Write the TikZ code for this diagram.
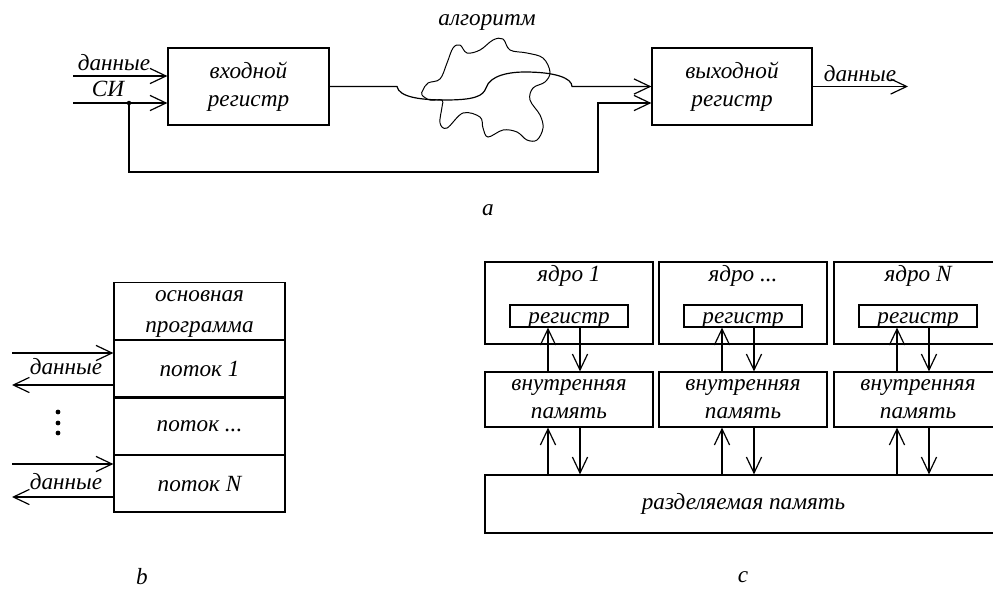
\documentclass[tikz,border=0pt]{standalone}
\usepackage{fontspec}
\setmainfont{Liberation Serif}
\usetikzlibrary{arrows.meta,positioning}
\tikzset{
  arr/.style={-{Straight Barb[length=4mm,width=3.8mm]}},
  blk/.style={draw, inner sep=0pt, align=center},
  rowbox/.style={blk, minimum width=4.275cm, minimum height=1.41cm},
  corebox/.style={blk, minimum width=4.2cm},
}
\begin{document}
\begin{tikzpicture}[x=0.025cm, y=-0.025cm, line width=0.85pt,
    every node/.style={font=\itshape\fontsize{16.5}{20}\selectfont}]
  \clip (0,0) rectangle (993,588);

  % (a) the two registers
  \node[blk, minimum width=4.025cm, minimum height=1.925cm] (in) at (248.5,86.5) {входной\\регистр};
  \node[blk, minimum width=4cm, minimum height=1.925cm] (out) at (732,86.5) {выходной\\регистр};

  % the inputs
  \coordinate (din) at (73,76);
  \coordinate (dsi) at (73,103);
  \node (ldin) at (114,63) {данные};
  \node (lsi) at (108,89) {СИ};
  \draw[arr] (din) -- (din -| in.west);
  \draw[arr] (dsi) -- (dsi -| in.west);

  % the clock goes round to the output register
  \coordinate (fb) at (129,103);
  \fill (fb) circle (1.6pt);
  \draw[arr] (fb) |- (598,172) |- (out.west |- fb);

  % the algorithm in between
  \coordinate (a1) at (397,86.5);
  \coordinate (a2) at (572,86.5);
  \draw[arr] (in.east) -- (a1) .. controls (399,97) and (420,100) .. (445,100)
    .. controls (475,100) and (483,96) .. (486,88)
    .. controls (490,75) and (510,72) .. (525,72)
    .. controls (555,72) and (572,78) .. (a2) -- (out.west);
  \draw[line width=0.7pt] plot[smooth cycle, tension=0.6] coordinates {
    (423,90) (428,83) (440,79) (447,63) (453,48) (460,45) (467,53) (480,50)
    (493,40) (503,39) (510,50) (527,53) (543,58) (550,72) (545,82) (533,88)
    (530,100) (540,115) (543,128) (537,140) (527,140) (517,132) (503,130)
    (488,137) (483,128) (480,117) (463,113) (447,128) (440,123) (442,107)
    (442,100) (430,100) (422,95)};
  \node (alg) at (487,22) {алгоритм};

  % the output
  \coordinate (dout) at (908,86.5);
  \draw[arr] (out.east) -- (dout);
  \node (ldout) at (860,74) {данные};
  \node (la) at (488,210) {a};

  % (b) program and threads
  \node[rowbox] (prog) at (199.5,311) {};
  \node[align=center] (progt) at (199.5,314) {основная\\[2pt]программа};
  \node[rowbox, below=0pt of prog] (t1) {поток 1};
  \node[rowbox, below=0pt of t1] (t2) {поток ...};
  \node[rowbox, below=0pt of t2] (tN) {поток N};

  \coordinate (b1i) at (12,353);
  \coordinate (b1o) at (12,385);
  \draw[arr] (b1i) -- (b1i -| t1.west);
  \draw[arr] (b1o -| t1.west) -- (b1o);
  \node (lb1) at (66,367) {данные};

  \coordinate (bNi) at (12,464);
  \coordinate (bNo) at (12,497);
  \draw[arr] (bNi) -- (bNi -| tN.west);
  \draw[arr] (bNo -| tN.west) -- (bNo);
  \node (lbN) at (66,482) {данные};

  \foreach \y in {412,423,433}
    \fill (58,\y) circle (1.7pt);
  \node (lb) at (142,577) {b};

  % (c) cores and shared memory
  \node[blk, minimum width=12.925cm, minimum height=1.45cm] (sh) at (743.5,504) {разделяемая память};
  \foreach \xl/\t [count=\i] in {485/1, 659/{...}, 834/N} {
    \node[corebox, minimum height=2.05cm] (core\i) at (\xl+84,303) {};
    \node (ct\i) at (\xl+84,276) {ядро \t};
    \node[blk, minimum width=2.95cm, minimum height=0.55cm] (reg\i) at (\xl+84,316) {};
    \node[anchor=base] (rt\i) at ([yshift=3pt]reg\i.south) {регистр};
    \node[corebox, minimum height=1.375cm] (mem\i) at (\xl+84,399.5) {внутренняя\\память};
    \draw[arr] ([xshift=-0.525cm]mem\i.north) -- ([xshift=-0.525cm]reg\i.south);
    \draw[arr] ([xshift=0.275cm]reg\i.south) -- ([xshift=0.275cm]mem\i.north);
    \draw[arr] ([xshift=-0.525cm]mem\i.south |- sh.north) -- ([xshift=-0.525cm]mem\i.south);
    \draw[arr] ([xshift=0.275cm]mem\i.south) -- ([xshift=0.275cm]mem\i.south |- sh.north);
  }
  \node (lc) at (743,577) {c};
\end{tikzpicture}
\end{document}
